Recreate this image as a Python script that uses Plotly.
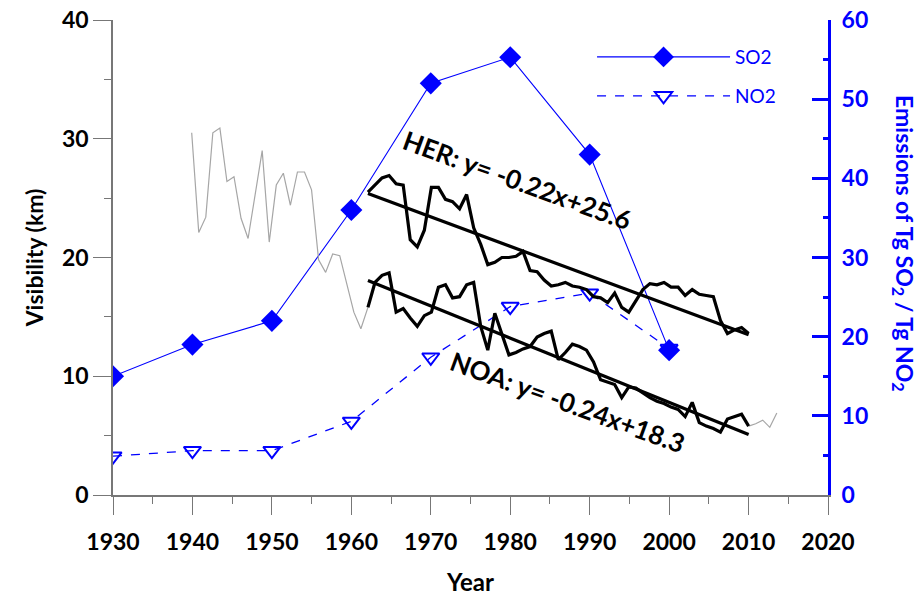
import plotly.graph_objects as go

# ---------------- data ----------------
emis_years = [1930, 1940, 1950, 1960, 1970, 1980, 1990, 2000]
so2 = [15.0, 19.0, 22.0, 36.0, 52.0, 55.3, 43.0, 18.3]
no2 = [4.9, 5.6, 5.6, 9.3, 17.4, 23.8, 25.5, 18.5]

vis_years = list(range(1956, 2011))
her = [25.5, 26.1, 26.7, 26.9, 26.2, 26.1, 21.5, 20.9, 22.3, 25.9,
       25.9, 24.9, 24.7, 24.1, 25.3, 22.5, 21.1, 19.4, 19.6, 20.0,
       20.0, 20.1, 20.5, 18.9, 18.8, 18.1, 17.6, 17.7, 17.9, 17.6,
       17.5, 17.3, 16.7, 16.6, 16.2, 17.0, 15.8, 15.4, 16.4, 17.3,
       17.8, 17.7, 17.9, 17.5, 17.5, 16.8, 17.3, 16.9, 16.8, 16.7,
       14.7, 13.6, 13.9, 14.1, 13.6]
noa = [15.8, 17.9, 18.5, 18.7, 15.4, 15.7, 14.9, 14.2, 15.1, 15.4,
       17.5, 17.7, 16.6, 16.7, 17.7, 17.9, 14.2, 12.2, 15.3, 13.6,
       11.8, 12.0, 12.3, 12.5, 13.3, 13.6, 13.8, 11.4, 12.0, 12.7,
       12.5, 12.2, 11.2, 9.7, 9.5, 9.3, 8.2, 9.1, 9.0, 8.6,
       8.2, 7.9, 7.7, 7.4, 7.2, 6.6, 7.8, 6.1, 5.8, 5.6,
       5.3, 6.4, 6.6, 6.8, 5.8]

gray_early_years = list(range(1931, 1957))
gray_early = [30.5, 22.1, 23.4, 30.5, 30.9, 26.4, 26.8, 23.3, 21.6, 25.3,
              29.0, 21.3, 26.1, 27.1, 24.4, 27.2, 27.2, 25.7, 19.8, 18.75,
              20.3, 20.15, 17.8, 15.4, 14.0, 15.8]
gray_late_years = [2010, 2011, 2012, 2013, 2014]
gray_late = [5.8, 6.0, 6.3, 5.7, 6.9]

her_fit = (-0.22, 25.6)
noa_fit = (-0.24, 18.3)
her_label = "HER: y= -0.22x+25.6"
noa_label = "NOA: y= -0.24x+18.3"

x_ticks = list(range(1930, 2021, 10))

# ---------------- figure ----------------
BLUE = "#0000FF"
FONT = "Lato"
GRAY = "#777777"
fig = go.Figure()

# emissions on the visible year axis (x) and right axis (y2)
fig.add_trace(go.Scatter(x=emis_years, y=no2, mode="lines+markers", name="NO2",
                         xaxis="x", yaxis="y2", legend="legend2",
                         line=dict(color=BLUE, width=1.3, dash="dash"),
                         marker=dict(symbol="triangle-down-open", size=15,
                                     color=BLUE, line=dict(color=BLUE, width=2))))
fig.add_trace(go.Scatter(x=emis_years, y=so2, mode="lines+markers", name="SO2",
                         xaxis="x", yaxis="y2", legend="legend",
                         line=dict(color=BLUE, width=1.1),
                         marker=dict(symbol="diamond", size=17, color=BLUE)))

# visibility series on their own (hidden) year scale x2 and km scale y3
gray_x = gray_early_years + [None] + gray_late_years
gray_y = gray_early + [None] + gray_late
fig.add_trace(go.Scatter(x=gray_x, y=gray_y, mode="lines", xaxis="x2", yaxis="y3",
                         line=dict(color="#A6A6A6", width=1.2), showlegend=False,
                         connectgaps=False))
fig.add_trace(go.Scatter(x=vis_years, y=her, mode="lines", xaxis="x2", yaxis="y3",
                         line=dict(color="black", width=3.2), showlegend=False))
fig.add_trace(go.Scatter(x=vis_years, y=noa, mode="lines", xaxis="x2", yaxis="y3",
                         line=dict(color="black", width=3.2), showlegend=False))

idx = list(range(1, len(vis_years) + 1))
her_line = [her_fit[0] * i + her_fit[1] for i in idx]
noa_line = [noa_fit[0] * i + noa_fit[1] for i in idx]
fig.add_trace(go.Scatter(x=vis_years, y=her_line, mode="lines", xaxis="x2", yaxis="y3",
                         line=dict(color="black", width=3.2), showlegend=False))
fig.add_trace(go.Scatter(x=vis_years, y=noa_line, mode="lines", xaxis="x2", yaxis="y3",
                         line=dict(color="black", width=3.2), showlegend=False))

tickfont_black = dict(family=FONT, size=23, color="black", weight="bold")
tickfont_blue = dict(family=FONT, size=23, color=BLUE, weight="bold")

fig.update_layout(
    width=918, height=597,
    margin=dict(l=113, r=90, t=20, b=102, autoexpand=False),
    paper_bgcolor="white", plot_bgcolor="rgba(0,0,0,0)",
    font=dict(family=FONT),
    xaxis=dict(range=[1930, 2020], domain=[0, 1], anchor="y", side="bottom",
               tickvals=x_ticks, ticks="outside", ticklen=18,
               tickcolor=GRAY, tickwidth=1.3, showline=True, linecolor=GRAY,
               linewidth=1.5, showgrid=False, zeroline=False, tickfont=tickfont_black,
               automargin=False, ticklabelstandoff=8,
               minor=dict(dtick=5, ticks="outside", ticklen=7, tickcolor=GRAY,
                          tickwidth=1.3, showgrid=False),
               title=dict(text="Year", font=dict(family=FONT, size=24, color="black",
                                                  weight="bold"), standoff=20)),
    yaxis=dict(range=[0, 40], domain=[0, 1], dtick=10, ticks="outside", ticklen=18,
               anchor="x", tickcolor=GRAY, tickwidth=1.3, showline=True,
               linecolor=GRAY, linewidth=1.5, showgrid=False, zeroline=False,
               tickfont=tickfont_black, automargin=False,
               minor=dict(dtick=5, ticks="outside", ticklen=7, tickcolor=GRAY,
                          tickwidth=1.3, showgrid=False),
               title=dict(text="Visibility (km)", font=dict(family=FONT, size=23,
                                                             color="black", weight="bold"),
                          standoff=12)),
    yaxis2=dict(range=[0, 60], dtick=10, overlaying="y", side="right", anchor="x",
                ticks="inside", ticklen=16, tickcolor=BLUE, tickwidth=3,
                showline=True, linecolor=BLUE, linewidth=3, showgrid=False,
                zeroline=False, tickfont=tickfont_blue, automargin=False,
                ticklabelstandoff=6,
                minor=dict(dtick=5, ticks="inside", ticklen=5, tickcolor=BLUE,
                           tickwidth=3, showgrid=False)),
    xaxis2=dict(range=[1919.837, 2021.26], domain=[0, 1], anchor="y3",
                visible=False, showgrid=False, zeroline=False, automargin=False),
    yaxis3=dict(range=[0, 40], domain=[0, 1], anchor="x2",
                visible=False, showgrid=False, zeroline=False, automargin=False),
    legend=dict(x=0.67, y=0.922, xanchor="left", yanchor="middle",
                bgcolor="rgba(0,0,0,0)", itemwidth=133,
                font=dict(family=FONT, size=19, color=BLUE)),
    legend2=dict(x=0.67, y=0.840, xanchor="left", yanchor="middle",
                 bgcolor="rgba(0,0,0,0)", itemwidth=133,
                 font=dict(family=FONT, size=19, color=BLUE)),
)

fig.add_annotation(x=1980.9, y=26.5, xref="x", yref="y", text=her_label,
                   showarrow=False, textangle=20,
                   font=dict(family=FONT, size=26, color="black", weight="bold"))
fig.add_annotation(x=1987.2, y=7.8, xref="x", yref="y", text=noa_label,
                   showarrow=False, textangle=20,
                   font=dict(family=FONT, size=26, color="black", weight="bold"))
fig.add_annotation(x=1.131, y=0.53, xref="paper", yref="paper",
                   text="Emissions of Tg SO<sub>2</sub> / Tg NO<sub>2</sub>",
                   showarrow=False, textangle=90,
                   font=dict(family=FONT, size=23, color=BLUE, weight="bold"))

fig.write_html("out.html", config={"displayModeBar": False},
               post_script="document.body.style.margin='0px';")
